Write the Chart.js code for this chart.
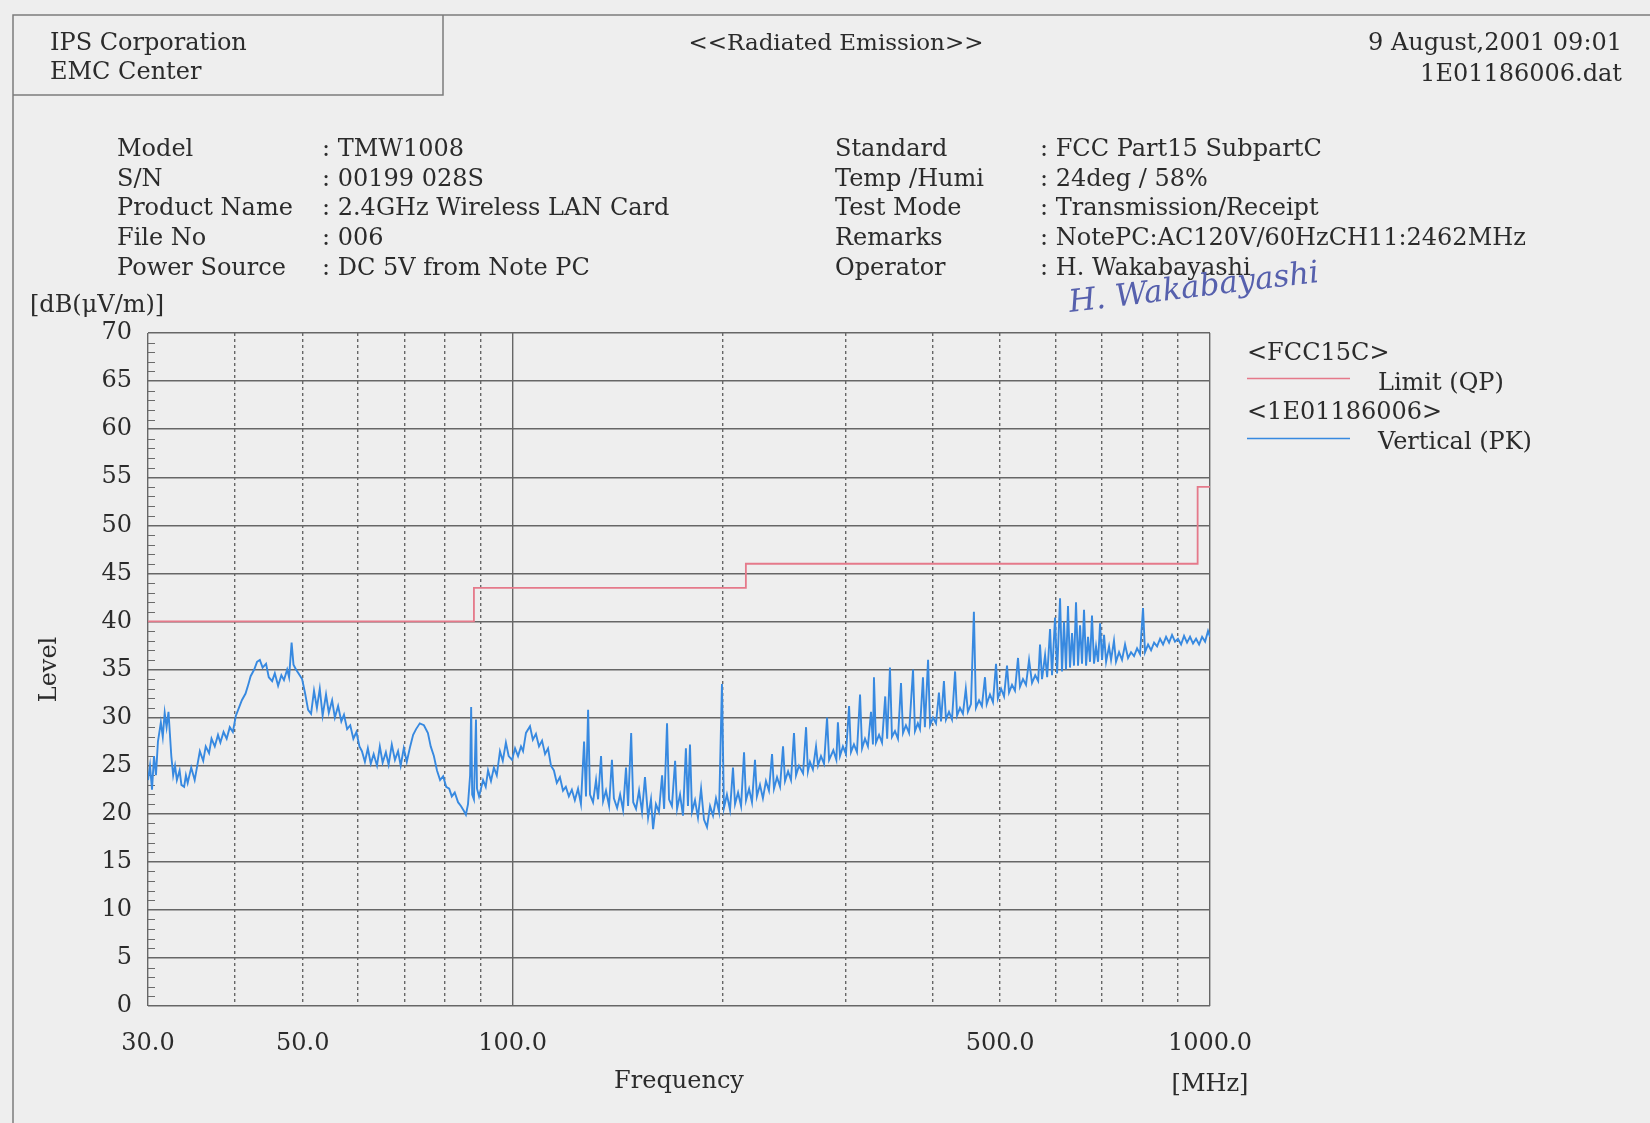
<!DOCTYPE html>
<html>
<head>
<meta charset="utf-8">
<title>Radiated Emission</title>
<script src="https://cdn.jsdelivr.net/npm/chart.js@4.4.1/dist/chart.umd.min.js"></script>
<style>
  html, body { margin: 0; padding: 0; background: #eeeeee; }
  #page { position: relative; width: 1650px; height: 1123px; overflow: hidden; }
  #page canvas { position: absolute; left: 0; top: 0; }
</style>
</head>
<body>
<div id="page"><canvas id="emission" width="1650" height="1123"></canvas></div>
<script>
var freqMHz = [
  30.0, 30.2, 30.4, 30.6, 30.8, 31.0, 31.3, 31.5, 31.7, 31.9, 32.1, 32.4, 32.6, 32.8, 33.0, 33.3, 33.5, 33.8, 34.0, 34.2,
  34.6, 35.0, 35.3, 35.6, 36.0, 36.3, 36.7, 37.0, 37.4, 37.8, 38.1, 38.5, 38.9, 39.3, 39.7, 40.1, 40.5, 40.9, 41.4, 41.8,
  42.1, 42.6, 43.0, 43.4, 43.8, 44.3, 44.7, 45.2, 45.6, 46.1, 46.6, 47.0, 47.5, 47.8, 48.2, 48.5, 48.9, 49.3, 49.9, 50.4,
  50.9, 51.4, 51.9, 52.4, 52.9, 53.4, 54.0, 54.5, 55.1, 55.6, 56.2, 56.8, 57.3, 57.9, 58.5, 59.1, 59.7, 60.3, 60.8, 61.4,
  62.0, 62.6, 63.2, 63.9, 64.5, 65.1, 65.8, 66.4, 67.1, 67.8, 68.5, 69.1, 69.8, 70.5, 71.3, 72.0, 72.7, 73.6, 74.6, 75.6,
  76.3, 77.1, 77.9, 78.7, 79.5, 80.3, 81.1, 81.8, 82.6, 83.5, 84.3, 85.1, 85.7, 86.3, 86.9, 87.2, 87.5, 88.0, 88.6, 88.9,
  89.5, 90.7, 91.5, 92.2, 93.1, 94.0, 94.9, 95.9, 96.8, 97.8, 98.7, 99.8, 100.8, 101.8, 102.8, 103.5, 104.5, 105.9, 106.9, 108.0,
  109.1, 110.2, 111.3, 112.4, 113.5, 114.6, 115.7, 116.9, 118.1, 119.2, 120.4, 121.6, 122.8, 124.1, 125.3, 126.6, 127.4, 128.3, 129.1, 130.4,
  131.7, 132.6, 133.9, 134.8, 136.1, 137.5, 138.8, 139.7, 141.2, 142.6, 144.0, 145.4, 146.4, 147.9, 148.9, 150.3, 151.8, 153.3, 154.8, 156.4,
  157.9, 159.0, 160.5, 162.1, 163.8, 164.9, 166.5, 167.6, 169.2, 171.0, 172.1, 173.8, 175.5, 177.2, 178.4, 179.6, 180.8, 182.6, 184.4, 186.3,
  188.1, 190.0, 191.9, 193.8, 195.7, 197.7, 199.6, 200.9, 202.9, 205.0, 207.0, 208.4, 210.5, 212.6, 214.7, 216.1, 218.3, 220.4, 222.6, 224.0,
  226.3, 228.5, 230.8, 233.1, 235.5, 237.0, 239.4, 241.8, 244.2, 245.8, 248.3, 250.7, 253.2, 254.9, 257.4, 260.9, 263.5, 265.1, 266.9, 269.5,
  272.3, 274.1, 276.8, 279.6, 282.4, 284.3, 288.3, 291.2, 292.7, 294.7, 297.6, 300.6, 303.7, 305.6, 308.6, 311.7, 314.9, 317.0, 320.1, 323.2,
  326.5, 328.6, 329.7, 331.9, 335.3, 338.6, 342.2, 344.4, 347.6, 349.9, 353.4, 356.9, 360.5, 362.9, 366.4, 370.2, 375.1, 377.5, 381.1, 383.8,
  387.6, 390.1, 394.2, 396.8, 400.7, 404.7, 408.6, 411.4, 415.4, 418.2, 422.4, 426.6, 431.0, 433.8, 438.0, 442.3, 446.5, 449.6, 454.2, 458.6,
  461.7, 466.5, 470.9, 475.7, 478.4, 483.6, 488.4, 493.4, 496.4, 501.7, 506.6, 511.6, 515.0, 520.1, 525.2, 530.5, 534.0, 539.3, 544.7, 550.2,
  555.6, 561.5, 567.0, 570.5, 574.3, 580.1, 584.1, 589.7, 593.6, 599.5, 603.6, 609.5, 613.5, 617.5, 621.6, 625.7, 629.9, 634.1, 638.2, 642.5,
  646.8, 651.1, 655.4, 659.7, 664.2, 668.5, 672.9, 677.3, 681.8, 686.4, 691.0, 695.6, 700.2, 704.8, 709.6, 716.5, 721.3, 728.3, 733.2, 740.6,
  747.9, 755.4, 762.9, 770.5, 778.2, 786.0, 793.7, 801.6, 806.9, 815.1, 823.2, 831.4, 839.7, 848.0, 856.4, 865.0, 873.6, 882.2, 890.9, 899.6,
  908.9, 917.9, 927.0, 936.2, 945.5, 955.0, 964.6, 974.2, 983.9, 993.5, 1000
];
var levelPK = [
  23.5, 25, 22.5, 26, 24, 27.5, 29.5, 28, 30.5, 29, 30.6, 26, 24, 25, 23.5, 24.5, 23, 22.8, 24, 23.2,
  24.8, 23.5, 25, 26.5, 25.5, 27, 26.3, 27.8, 27, 28.2, 27.4, 28.5, 27.8, 29, 28.5, 30.2, 31, 31.8, 32.5, 33.5,
  34.3, 35, 35.8, 36, 35.2, 35.6, 34.2, 33.8, 34.6, 33.3, 34.4, 33.9, 35, 34.2, 37.8, 35.5, 35, 34.6, 34, 32.5,
  30.8, 30.4, 32.8, 31, 33, 30.2, 32.4, 30.5, 31.8, 30, 31.2, 29.6, 30.3, 28.8, 29.2, 27.8, 28.5, 27, 26.5, 25.4,
  26.8, 25.2, 26.2, 25, 27, 25.3, 26.4, 25.1, 27.2, 25.6, 26.5, 25, 26.8, 25.4, 27, 28.2, 28.8, 29.4, 29.2, 28.4,
  27, 26, 24.5, 23.5, 23.9, 22.8, 22.6, 21.8, 22.2, 21.2, 20.8, 20.3, 19.9, 21, 24, 31.1, 22, 21.5, 29.8, 22.6,
  21.8, 23.5, 22.8, 24.5, 23.4, 24.8, 24, 26.5, 25.5, 27.4, 26, 25.6, 26.8, 26, 27, 26.5, 28.4, 29.1, 27.7, 28.3,
  27, 27.6, 26.2, 26.8, 25, 24.5, 23.2, 23.8, 22.4, 22.8, 21.8, 22.5, 21.4, 22.6, 21, 27.5, 21.8, 30.8, 22, 21.2,
  23.5, 21.5, 26, 21.3, 22.4, 20.8, 25.6, 21.6, 20.6, 22, 20.4, 24.8, 20.8, 28.4, 21.2, 20.5, 22.4, 20.2, 23.8, 19.6,
  21.5, 18.4, 21, 20.2, 24, 20.5, 29.4, 21.5, 20.8, 25.5, 20.5, 22, 19.8, 26.8, 20.8, 27.2, 20.2, 21.4, 19.6, 22.6,
  19.4, 18.6, 20.8, 19.8, 21.6, 20.2, 33.5, 20.6, 22, 20.4, 24.8, 21, 22.2, 20.8, 26.4, 21.4, 22.6, 21.2, 25.6, 21.8,
  23, 21.6, 23.4, 22.4, 26.2, 22.6, 23.8, 22.8, 27, 23.4, 24.4, 23.5, 28.4, 24, 25, 24.2, 29, 24.4, 25.4, 24.6,
  27, 25, 26, 25.2, 30, 25.6, 26.6, 25.6, 29.5, 26, 27, 26.2, 31.2, 26.4, 27.2, 26.4, 32.4, 26.8, 27.8, 27,
  30.6, 27.2, 34.2, 27.4, 28.2, 27.4, 32.2, 27.8, 35.2, 28, 28.6, 27.8, 33.6, 28.4, 29.2, 28.4, 35, 28.6, 29.4, 28.8,
  34.2, 29, 36, 29.2, 30, 29.4, 32.6, 29.6, 33.8, 29.8, 30.6, 29.8, 34.8, 30.2, 31, 30.4, 33, 30.6, 31.4, 41,
  31, 31.8, 31.2, 34.2, 31.4, 32.4, 31.6, 35.6, 32, 33, 32.2, 35.4, 32.6, 33.4, 32.8, 36.2, 33.2, 34, 33.4, 36,
  33.6, 34.4, 33.8, 37.6, 34, 36.5, 34.2, 39.2, 34.4, 40.4, 34.6, 42.4, 34.8, 40, 35, 41.6, 35.2, 38.8, 35.4, 42,
  35.4, 39.6, 35.6, 41.2, 35.4, 38.4, 35.8, 40.6, 35.6, 37.4, 35.8, 39.8, 36, 38.6, 35.8, 37.4, 36, 38, 35.8, 36.8,
  36, 37.6, 36.2, 36.8, 36.4, 37.2, 36.6, 41.4, 36.8, 37.6, 37, 37.8, 37.4, 38.2, 37.6, 38.4, 37.8, 38.6, 37.9, 38.2,
  37.6, 38.5, 37.8, 38.4, 37.7, 38.2, 37.6, 38.4, 37.9, 39, 38.4
];

// FCC Part15 limit (QP), stepped
var limitFreq = [30, 88, 88, 216, 216, 960, 960, 1000];
var limitQP = [40, 40, 43.5, 43.5, 46, 46, 54, 54];

// axis ticks
var levelTicks = [0, 5, 10, 15, 20, 25, 30, 35, 40, 45, 50, 55, 60, 65, 70];
var freqGrid = [30, 40, 50, 60, 70, 80, 90, 100, 200, 300, 400, 500, 600, 700, 800, 900, 1000];
var freqLabels = [30, 50, 100, 500, 1000];
var solidFreq = [30, 100, 1000];

var headLeft = ['IPS Corporation', 'EMC Center'];
var infoLeftKeys = ['Model', 'S/N', 'Product Name', 'File No', 'Power Source'];
var infoLeftVals = [': TMW1008', ': 00199 028S', ': 2.4GHz Wireless LAN Card', ': 006', ': DC 5V from Note PC'];
var infoRightKeys = ['Standard', 'Temp /Humi', 'Test Mode', 'Remarks', 'Operator'];
var infoRightVals = [': FCC Part15 SubpartC', ': 24deg / 58%', ': Transmission/Receipt', ': NotePC:AC120V/60HzCH11:2462MHz', ': H. Wakabayashi'];

var SERIF = '"DejaVu Serif", "Liberation Serif", serif';
var INK = '#2b2b2b';
var RED = '#e5798a';
var BLUE = '#3789e0';

function toPoints(xs, ys) {
  return xs.map(function (x, i) { return { x: x, y: ys[i] }; });
}

function put(ctx, text, x, y, size, align) {
  ctx.font = size + 'px ' + SERIF;
  ctx.textAlign = align || 'left';
  ctx.fillText(text, x, y);
}

var pagePlugin = {
  id: 'page',
  beforeDraw: function (chart) {
    var ctx = chart.ctx;
    ctx.save();
    ctx.strokeStyle = '#7c7c7c';
    ctx.lineWidth = 1.5;
    ctx.beginPath();
    ctx.moveTo(13, 1123);
    ctx.lineTo(13, 15);
    ctx.lineTo(1650, 15);
    ctx.moveTo(13, 95);
    ctx.lineTo(443, 95);
    ctx.lineTo(443, 15);
    ctx.stroke();
    ctx.restore();
  },
  beforeDatasetsDraw: function (chart) {
    // small 1 dB ticks inside the left axis
    var ctx = chart.ctx, y = chart.scales.y, left = chart.chartArea.left;
    ctx.save();
    ctx.strokeStyle = '#6b6b6b';
    ctx.lineWidth = 1;
    ctx.beginPath();
    for (var v = 1; v < 70; v++) {
      if (v % 5 === 0) continue;
      var py = Math.round(y.getPixelForValue(v)) + 0.5;
      ctx.moveTo(left, py);
      ctx.lineTo(left + 7, py);
    }
    ctx.stroke();
    ctx.restore();
  },
  afterDraw: function (chart) {
    var ctx = chart.ctx, i;
    ctx.save();
    ctx.fillStyle = INK;
    ctx.textBaseline = 'alphabetic';

    put(ctx, headLeft[0], 50, 50, 24);
    put(ctx, headLeft[1], 50, 79, 24);
    put(ctx, '<<Radiated Emission>>', 836, 50, 23, 'center');
    put(ctx, '9 August,2001 09:01', 1622, 50, 24, 'right');
    put(ctx, '1E01186006.dat', 1622, 81, 24, 'right');

    for (i = 0; i < infoLeftKeys.length; i++) {
      var by = 156 + i * 29.7;
      put(ctx, infoLeftKeys[i], 117, by, 24);
      put(ctx, infoLeftVals[i], 322, by, 24);
      put(ctx, infoRightKeys[i], 835, by, 24);
      put(ctx, infoRightVals[i], 1040, by, 24);
    }

    put(ctx, '[dB(\u03bcV/m)]', 30, 312, 24);
    put(ctx, '[MHz]', 1210, 1091, 24, 'center');

    // legend
    put(ctx, '<FCC15C>', 1247, 360, 24);
    put(ctx, 'Limit (QP)', 1378, 390, 24);
    put(ctx, '<1E01186006>', 1247, 419, 24);
    put(ctx, 'Vertical (PK)', 1378, 449, 24);
    ctx.lineWidth = 1.5;
    ctx.strokeStyle = RED;
    ctx.beginPath(); ctx.moveTo(1247, 378.5); ctx.lineTo(1350, 378.5); ctx.stroke();
    ctx.strokeStyle = BLUE;
    ctx.beginPath(); ctx.moveTo(1247, 438.5); ctx.lineTo(1350, 438.5); ctx.stroke();

    // operator signature
    ctx.translate(1070, 312);
    ctx.rotate(-0.12);
    ctx.fillStyle = '#5660ad';
    ctx.font = 'italic 31px ' + SERIF;
    ctx.textAlign = 'left';
    ctx.fillText('H. Wakabayashi', 0, 0);
    ctx.restore();
  }
};

window.addEventListener('load', function () {
  var ctx = document.getElementById('emission').getContext('2d');
  var tickFont = { family: SERIF, size: 24 };

  new Chart(ctx, {
    type: 'line',
    data: {
      datasets: [{
        label: 'Vertical (PK)',
        data: toPoints(freqMHz, levelPK),
        borderColor: BLUE,
        borderWidth: 1.9,
        pointRadius: 0,
        tension: 0
      }, {
        label: 'Limit (QP)',
        data: toPoints(limitFreq, limitQP),
        borderColor: RED,
        borderWidth: 1.8,
        pointRadius: 0,
        tension: 0
      }]
    },
    options: {
      responsive: false,
      animation: false,
      devicePixelRatio: 1,
      layout: { padding: { left: 0, right: 440, top: 333, bottom: 17 } },
      plugins: { legend: { display: false }, tooltip: { enabled: false } },
      scales: {
        x: {
          type: 'logarithmic',
          min: 30,
          max: 1000,
          afterBuildTicks: function (scale) {
            scale.ticks = freqGrid.map(function (v) { return { value: v }; });
          },
          afterFit: function (scale) { scale.height = 100; },
          grid: { color: '#666666', lineWidth: 1.4, drawTicks: false },
          border: {
            display: false,
            dash: function (c) {
              return c.tick && solidFreq.indexOf(c.tick.value) >= 0 ? [] : [3, 3];
            }
          },
          ticks: {
            autoSkip: false,
            maxRotation: 0,
            padding: 23,
            color: INK,
            font: tickFont,
            callback: function (v) {
              return freqLabels.indexOf(v) >= 0 ? v.toFixed(1) : '';
            }
          },
          title: { display: true, text: 'Frequency', color: INK, font: { family: SERIF, size: 24 }, padding: { bottom: 10 } }
        },
        y: {
          min: 0,
          max: 70,
          afterBuildTicks: function (scale) {
            scale.ticks = levelTicks.map(function (v) { return { value: v }; });
          },
          afterFit: function (scale) { scale.width = 148; },
          grid: { color: '#666666', lineWidth: 1.4, drawTicks: false },
          border: { display: false },
          ticks: { padding: 16, color: INK, font: tickFont },
          title: { display: true, text: 'Level', color: INK, font: { family: SERIF, size: 24 }, padding: { top: 35 } }
        }
      }
    },
    plugins: [pagePlugin]
  });
});
</script>
</body>
</html>
